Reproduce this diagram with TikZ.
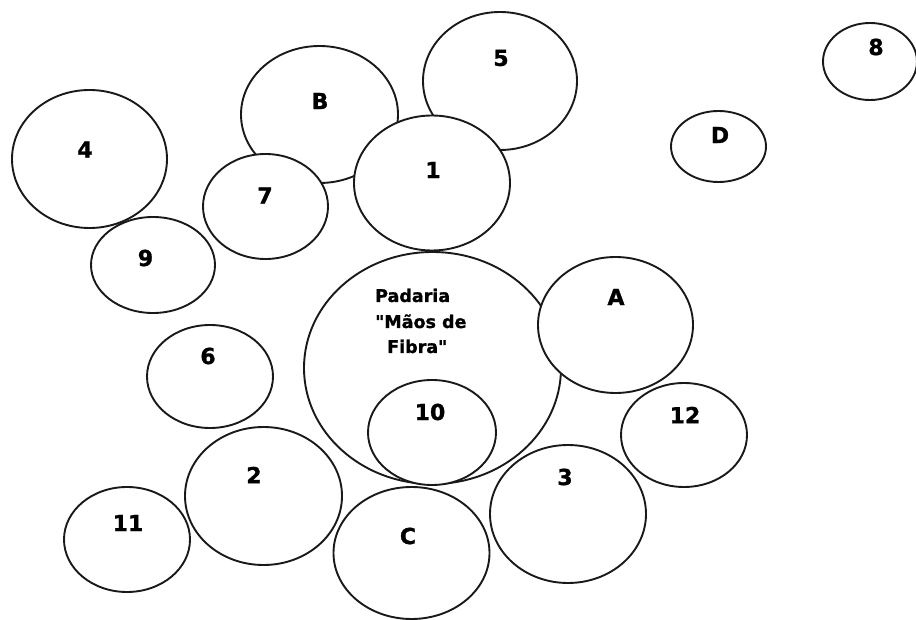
\documentclass[tikz,border=0pt]{standalone}
\usepackage{fontspec}
\setmainfont{DejaVu Sans}[Ligatures=TeXOff, BoldFeatures={FakeBold=1.2}]
\usetikzlibrary{shapes.geometric}
\tikzset{
  bubble/.style={ellipse, draw=black!90, line width=1.9pt, fill=white, inner sep=0pt, outer sep=0pt},
  lbl/.style={font=\bfseries\fontsize{22}{26}\selectfont, inner sep=0pt},
  plbl/.style={font=\bfseries\fontsize{17.5}{21}\selectfont, inner sep=0pt, anchor=base west}
}
\begin{document}
\begin{tikzpicture}[x=1pt,y=-1pt]
\useasboundingbox (0,0) rectangle (916,620);
% circles (back to front)
\node[bubble, minimum width=155pt, minimum height=138pt] (c4) at (89.5,159) {};
\node[bubble, minimum width=124pt, minimum height=96pt] (c9) at (153,265) {};
\node[bubble, minimum width=157pt, minimum height=137pt] (cB) at (319.5,114.5) {};
\node[bubble, minimum width=154pt, minimum height=138pt] (c5) at (500,81) {};
\node[bubble, minimum width=125pt, minimum height=105pt] (c7) at (265.5,206.5) {};
\node[bubble, minimum width=156pt, minimum height=135pt] (c1) at (432,183) {};
\node[bubble, minimum width=94pt, minimum height=77pt] (c8) at (870,61.5) {};
\node[bubble, minimum width=95pt, minimum height=71pt] (cD) at (718.5,146.5) {};
\node[bubble, minimum width=126pt, minimum height=103pt] (c6) at (210,376.5) {};
\node[bubble, minimum width=157pt, minimum height=138pt] (c2) at (263.5,496) {};
\node[bubble, minimum width=126pt, minimum height=105pt] (c11) at (127,539.5) {};
\node[bubble, minimum width=257pt, minimum height=232pt] (cP) at (432.5,368) {};
\node[bubble, minimum width=155pt, minimum height=136pt] (cA) at (615.5,325) {};
\node[bubble, minimum width=126pt, minimum height=104pt] (c12) at (684,435) {};
\node[bubble, minimum width=156pt, minimum height=138pt] (c3) at (568,514) {};
\node[bubble, minimum width=128pt, minimum height=105pt] (c10) at (432,432.5) {};
\node[bubble, minimum width=156pt, minimum height=132pt] (cC) at (411.5,553) {};
% labels
\node[lbl] (t4) at (85,149.5) {4};
\node[lbl] (t9) at (145.5,258) {9};
\node[lbl] (tB) at (320,101) {B};
\node[lbl] (t5) at (501,58) {5};
\node[lbl] (t7) at (265,195.5) {7};
\node[lbl] (t1) at (433,170) {1};
\node[lbl] (t8) at (876,47) {8};
\node[lbl] (tD) at (720,135) {D};
\node[lbl] (t6) at (208,356) {6};
\node[lbl] (t2) at (254,475) {2};
\node[lbl] (t11) at (128,523) {11};
\node[lbl] (tA) at (616,297) {A};
\node[lbl] (t12) at (685,415) {12};
\node[lbl] (t3) at (565,477) {3};
\node[lbl] (t10) at (430,412) {10};
\node[lbl] (tC) at (408,536) {C};
\node[plbl] (p1) at (375,302) {Padaria};
\node[plbl] (p2) at (375,328) {"Mãos de};
\node[plbl] (p3) at (387,353) {Fibra"};
\end{tikzpicture}
\end{document}
